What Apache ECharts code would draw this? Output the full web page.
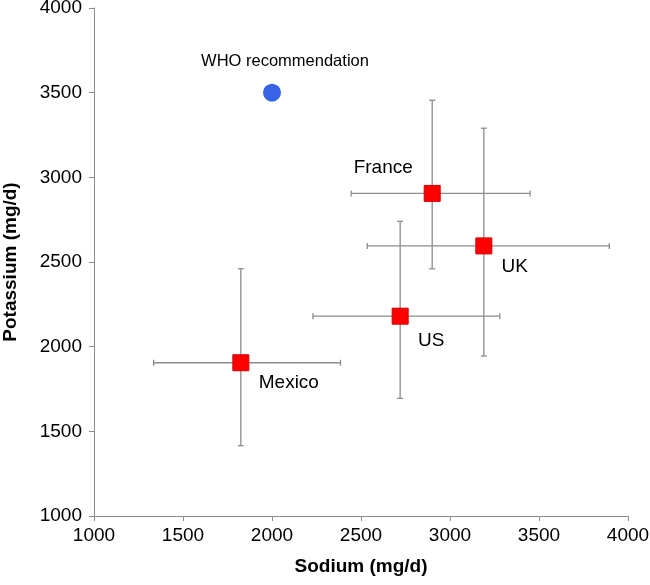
<!DOCTYPE html>
<html>
<head>
<meta charset="utf-8">
<script src="https://cdn.jsdelivr.net/npm/echarts@6/dist/echarts.min.js"></script>
<style>
  html, body { margin: 0; padding: 0; background: #fff; }
  #chart { width: 650px; height: 585px; }
</style>
</head>
<body>
<div id="chart"></div>
<script>
// country means with their error bar ends (mg/d)
const countries = ["France", "UK", "US", "Mexico"];
const sodium = [2900, 3190, 2720, 1825];
const sodiumLow = [2445, 2535, 2230, 1335];
const sodiumHigh = [3450, 3895, 3280, 2385];
const potassium = [2905, 2595, 2180, 1905];
const potassiumLow = [2460, 1945, 1695, 1415];
const potassiumHigh = [3455, 3290, 2740, 2460];

const whoName = "WHO recommendation";
const whoPoint = [2000, 3500];

const axisMin = 1000;
const axisMax = 4000;
const axisStep = 500;

// where each text label sits relative to its marker (px)
const labelOffsets = {
  France: [-49, -26],
  UK: [31, 21],
  US: [31, 25],
  Mexico: [48, 20],
};

const FONT = "'Liberation Sans', Arial, sans-serif";
const TEXT = "#000";
const BAR_COLOR = "#8c8c8c";
const CAP = 3;

const chart = echarts.init(document.getElementById("chart"));

const errorData = countries.map((c, i) => [
  sodium[i], potassium[i],
  sodiumLow[i], sodiumHigh[i],
  potassiumLow[i], potassiumHigh[i],
]);

const renderErrorBars = (params, api) => {
  const c = api.coord([api.value(0), api.value(1)]);
  const xl = api.coord([api.value(2), api.value(1)]);
  const xh = api.coord([api.value(3), api.value(1)]);
  const yl = api.coord([api.value(0), api.value(4)]);
  const yh = api.coord([api.value(0), api.value(5)]);
  const style = { stroke: BAR_COLOR, lineWidth: 1.3 };
  const line = (x1, y1, x2, y2) => ({
    type: "line",
    shape: { x1, y1, x2, y2 },
    style,
  });
  return {
    type: "group",
    children: [
      line(xl[0], c[1], xh[0], c[1]),
      line(xl[0], c[1] - CAP, xl[0], c[1] + CAP),
      line(xh[0], c[1] - CAP, xh[0], c[1] + CAP),
      line(c[0], yl[1], c[0], yh[1]),
      line(c[0] - CAP, yl[1], c[0] + CAP, yl[1]),
      line(c[0] - CAP, yh[1], c[0] + CAP, yh[1]),
    ],
  };
};

const axisCommon = {
  type: "value",
  min: axisMin,
  max: axisMax,
  interval: axisStep,
  splitLine: { show: false },
  axisLine: { show: true, lineStyle: { color: "#8a8a8a", width: 1 } },
  axisTick: { show: true, inside: false, length: 5, lineStyle: { color: "#8a8a8a" } },
  nameLocation: "middle",
  nameTextStyle: { fontFamily: FONT, fontSize: 19, fontWeight: "bold", color: TEXT },
};

const tickLabel = (margin) => ({
  fontFamily: FONT,
  fontSize: 19,
  color: TEXT,
  margin,
  formatter: (v) => String(v),
});

const option = {
  animation: false,
  backgroundColor: "#fff",
  grid: {
    left: 94, right: 22, top: 8, bottom: 69,
    containLabel: false,
    outerBoundsMode: "none",
  },
  xAxis: {
    ...axisCommon,
    name: "Sodium (mg/d)",
    nameGap: 41,
    axisLabel: tickLabel(10),
  },
  yAxis: {
    ...axisCommon,
    name: "Potassium (mg/d)",
    nameGap: 74,
    axisLabel: tickLabel(12),
  },
  series: [
    {
      type: "custom",
      renderItem: renderErrorBars,
      data: errorData,
      z: 1,
      silent: true,
    },
    {
      type: "scatter",
      symbol: "rect",
      symbolSize: 16,
      z: 3,
      itemStyle: { color: "#ff0000", borderColor: "#d40000", borderWidth: 1, opacity: 1 },
      data: countries.map((c, i) => ({
        name: c,
        value: [sodium[i], potassium[i]],
        label: { offset: labelOffsets[c] },
      })),
      label: {
        show: true,
        position: "inside",
        formatter: (p) => p.name,
        fontFamily: FONT,
        fontSize: 19,
        color: TEXT,
      },
    },
    {
      type: "scatter",
      symbol: "circle",
      symbolSize: 18,
      z: 3,
      itemStyle: { color: "#3862e8", opacity: 1 },
      data: [{ name: whoName, value: whoPoint }],
      label: {
        show: true,
        position: "inside",
        offset: [13, -31],
        formatter: (p) => p.name,
        fontFamily: FONT,
        fontSize: 16.5,
        color: TEXT,
      },
    },
  ],
};

chart.setOption(option);
</script>
</body>
</html>
